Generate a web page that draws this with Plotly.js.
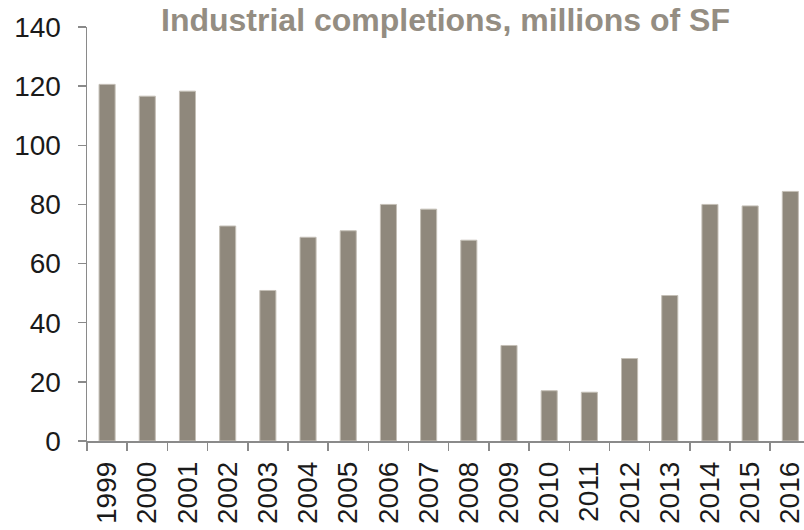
<!DOCTYPE html>
<html>
<head>
<meta charset="utf-8">
<script src="https://cdn.plot.ly/plotly-3.0.1.min.js"></script>
<style>html,body{margin:0;padding:0;background:#fff;}#chart{width:804px;height:530px;}</style>
</head>
<body>
<div id="chart"></div>
<script>
const years = ["1999","2000","2001","2002","2003","2004","2005","2006","2007","2008","2009","2010","2011","2012","2013","2014","2015","2016"];
const completions = [120.6, 116.6, 118.3, 72.7, 50.9, 68.9, 71.1, 80.0, 78.4, 67.9, 32.3, 17.0, 16.5, 27.9, 49.2, 80.0, 79.5, 84.4];
const yTicks = [0, 20, 40, 60, 80, 100, 120, 140];
const chartTitle = "Industrial completions, millions of SF";

const trace = {
  type: 'bar',
  x: years,
  y: completions,
  width: 0.4,
  marker: {color: '#8f887c', line: {color: '#c4bfb6', width: 1}},
  hoverinfo: 'x+y'
};

const axisColor = '#8a8a8a';
const layout = {
  width: 804, height: 530,
  margin: {l: 87, r: 0, t: 27, b: 89, pad: 0},
  paper_bgcolor: '#ffffff', plot_bgcolor: '#ffffff',
  showlegend: false,
  font: {family: 'Liberation Sans, Arial, sans-serif', color: '#1a1a1a', size: 28},
  title: {
    text: '<b>' + chartTitle + '</b>',
    font: {family: 'Liberation Sans, Arial, sans-serif', size: 32, color: '#948d82'},
    xref: 'paper', x: 0.5, xanchor: 'center',
    yref: 'container', y: 1 - 9/530, yanchor: 'top'
  },
  xaxis: {
    type: 'category',
    range: [-0.5, 17.34],
    tickson: 'boundaries',
    ticks: 'outside', ticklen: 8, tickwidth: 1.5, tickcolor: axisColor,
    showline: true, linecolor: axisColor, linewidth: 1.5,
    showgrid: false, zeroline: false,
    tickangle: -90,
    tickfont: {size: 28, color: '#1a1a1a'},
    ticklabelstandoff: 8,
    fixedrange: true
  },
  yaxis: {
    range: [0, 140],
    tickvals: yTicks,
    ticktext: yTicks.map(String),
    ticks: 'outside', ticklen: 8, tickwidth: 1.5, tickcolor: axisColor,
    showline: true, linecolor: axisColor, linewidth: 1.5,
    showgrid: false, zeroline: false,
    tickfont: {size: 28, color: '#1a1a1a'},
    ticklabelstandoff: 11,
    fixedrange: true
  },
  bargap: 0.6
};

Plotly.newPlot('chart', [trace], layout, {displayModeBar: false, staticPlot: true});
</script>
</body>
</html>
